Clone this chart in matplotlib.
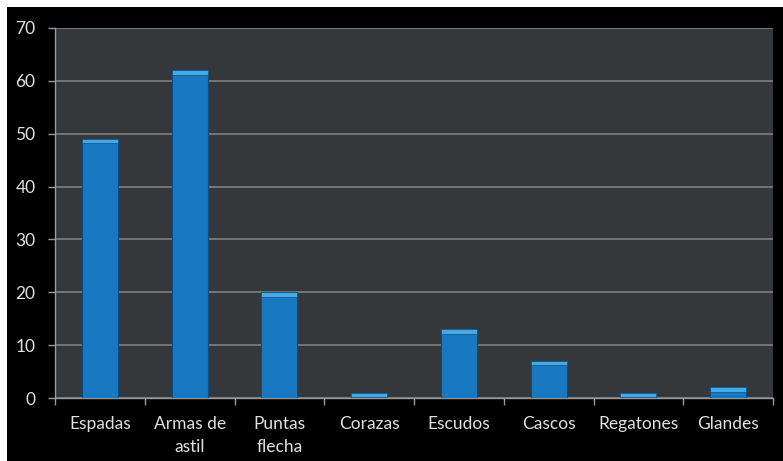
import matplotlib
matplotlib.use('Agg')
import matplotlib.pyplot as plt
import matplotlib.patches as mpatches

# Data
categories = ['Espadas', 'Armas de\nastil', 'Puntas\nflecha', 'Corazas',
              'Escudos', 'Cascos', 'Regatones', 'Glandes']
values = [49, 62, 20, 1, 13, 7, 1, 2]
y_ticks = [0, 10, 20, 30, 40, 50, 60, 70]

plt.rcParams['font.family'] = ['Lato', 'DejaVu Sans']

fig = plt.figure(figsize=(7.83, 4.61), dpi=100, facecolor='white')
# black panel with a thin white margin on the top and left
fig.patches.append(mpatches.Rectangle((7 / 783, 0), 1, 1 - 7 / 461,
                                      transform=fig.transFigure,
                                      facecolor='black', edgecolor='none', zorder=-5))

ax = fig.add_axes([55 / 783, 63 / 461, 718 / 783, 370 / 461])
ax.set_facecolor('#35383b')

x = range(len(categories))
ax.bar(x, values, width=0.4, color='#1878c2', edgecolor='#0b4f86',
       linewidth=0.8, zorder=3)
# lighter bevel on top of each bar
for xi, v in zip(x, values):
    h = min(0.8, v)
    ax.bar(xi, h, bottom=v - h, width=0.4,
           color='#48a8e4', edgecolor='#0b4f86', linewidth=0.5, zorder=4)

ax.set_xlim(-0.5, len(categories) - 0.5)
ax.set_ylim(0, 70)
ax.set_yticks(y_ticks)
ax.yaxis.grid(True, color='#808080', linewidth=1.2, zorder=1)
ax.set_axisbelow(True)

ax.set_xticks(x)
ax.set_xticklabels(categories, color='#e0e0e0', fontsize=12.5, linespacing=1.5)
ax.tick_params(axis='x', length=0, pad=13)
ax.set_xticks([i + 0.5 for i in range(-1, len(categories))], minor=True)
ax.tick_params(axis='x', which='minor', length=5, color='#9a9a9a', width=1)
ax.tick_params(axis='y', length=5, color='#9a9a9a', width=1, pad=9,
               labelcolor='#e0e0e0', labelsize=12.5)

for side in ['top', 'right']:
    ax.spines[side].set_visible(False)
ax.spines['left'].set_color('#9a9a9a')
ax.spines['bottom'].set_color('#9a9a9a')
ax.spines['left'].set_linewidth(1)
ax.spines['bottom'].set_linewidth(1)

fig.savefig('out.png', dpi=100, facecolor=fig.get_facecolor())
